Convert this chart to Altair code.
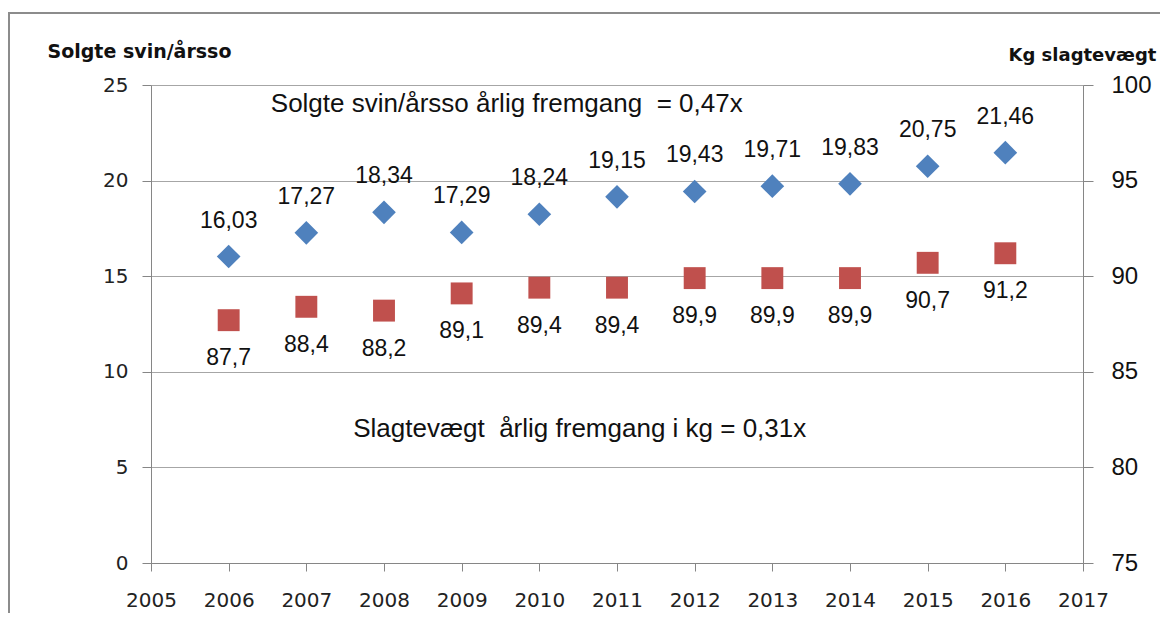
import altair as alt
import pandas as pd

years = [2006, 2007, 2008, 2009, 2010, 2011, 2012, 2013, 2014, 2015, 2016]
svin = [16.03, 17.27, 18.34, 17.29, 18.24, 19.15, 19.43, 19.71, 19.83, 20.75, 21.46]
vaegt = [87.7, 88.4, 88.2, 89.1, 89.4, 89.4, 89.9, 89.9, 89.9, 90.7, 91.2]

left_ticks = [0, 5, 10, 15, 20, 25]
right_ticks = [75, 80, 85, 90, 95, 100]
x_ticks = list(range(2005, 2018))

ann_text = ["Solgte svin/årsso årlig fremgang \u00a0= 0,47x", "Slagtevægt \u00a0årlig fremgang i kg = 0,31x"]
ann_x = [2009.58, 2010.52]
ann_y = [24.0, 7.0]

FONT = "Liberation Sans"
TICKFONT = "DejaVu Sans"
BLUE = "#4F81BD"
RED = "#C0504D"
W, H = 932, 478

df1 = pd.DataFrame({"year": years, "v": svin,
                    "lab": [f"{v:.2f}".replace(".", ",") for v in svin]})
df2 = pd.DataFrame({"year": years, "v": vaegt,
                    "lab": [f"{v:.1f}".replace(".", ",") for v in vaegt]})
dfa = pd.DataFrame({"x": ann_x, "y": ann_y, "t": ann_text})

xsc = alt.Scale(domain=[2005, 2017], nice=False, zero=False)
xax = alt.Axis(values=x_ticks, format="d", title=None, grid=False,
               labelFontSize=20, labelFont=TICKFONT, labelColor="#222",
               tickSize=8, labelPadding=19, domainColor="#868686", tickColor="#868686",
               labelFlush=False)
x = alt.X("year:Q", scale=xsc, axis=xax)

ysc_l = alt.Scale(domain=[0, 25], nice=False)
yax_l = alt.Axis(values=left_ticks, title="Solgte svin/årsso", titleAngle=0,
                 titleX=-104, titleY=-28, titleAlign="left", titleBaseline="alphabetic",
                 titleFont=TICKFONT, titleFontSize=19, titleFontWeight="bold", titleColor="#111",
                 labelFontSize=20, labelFont=TICKFONT, labelColor="#222",
                 tickSize=9, labelPadding=14, grid=True, gridColor="#A6A6A6",
                 domainColor="#868686", tickColor="#868686", orient="left")

ysc_r = alt.Scale(domain=[75, 100], nice=False, zero=False)
yax_r = alt.Axis(values=right_ticks, title="Kg slagtevægt", titleAngle=0,
                 titleX=-75, titleY=-25, titleAlign="left", titleBaseline="alphabetic",
                 titleFont=TICKFONT, titleFontSize=18, titleFontWeight="bold", titleColor="#111",
                 labelFontSize=24, labelFont=FONT, labelColor="#111",
                 tickSize=10, labelPadding=18, grid=False,
                 domainColor="#868686", tickColor="#868686", orient="right")

frame = alt.Chart(dfa).mark_rect(fill=None, stroke="#8C8C8C", strokeWidth=2, clip=False).encode(
    x=alt.value(-142), x2=alt.value(1300), y=alt.value(-72), y2=alt.value(800))

yl = alt.Y("v:Q", scale=ysc_l, axis=yax_l)
blue_pts = alt.Chart(df1).mark_point(shape="diamond", filled=True, size=560, color=BLUE, opacity=1).encode(
    x=x, y=yl)
blue_txt = alt.Chart(df1).mark_text(font=FONT, fontSize=23, color="#111", dy=-36).encode(
    x=x, y=yl, text="lab:N")
ann = alt.Chart(dfa).mark_text(font=FONT, fontSize=26, color="#111").encode(
    x=alt.X("x:Q", scale=xsc, axis=xax),
    y=alt.Y("y:Q", scale=ysc_l, axis=yax_l), text="t:N")
left = alt.layer(frame, blue_pts, blue_txt, ann)

yr = alt.Y("v:Q", scale=ysc_r, axis=yax_r)
red_pts = alt.Chart(df2).mark_point(shape="square", filled=True, size=480, color=RED, opacity=1).encode(
    x=x, y=yr)
red_txt = alt.Chart(df2).mark_text(font=FONT, fontSize=23, color="#111", dy=38).encode(
    x=x, y=yr, text="lab:N")
right = alt.layer(red_pts, red_txt)

chart = alt.layer(left, right).resolve_scale(y="independent").properties(
    width=W, height=H,
    autosize=alt.AutoSizeParams(type="none"),
    padding={"left": 143, "top": 77, "right": 77, "bottom": 50},
).configure_view(strokeWidth=0).configure(background="white")

chart.save("out.html", embed_options={"renderer": "svg", "actions": False})
